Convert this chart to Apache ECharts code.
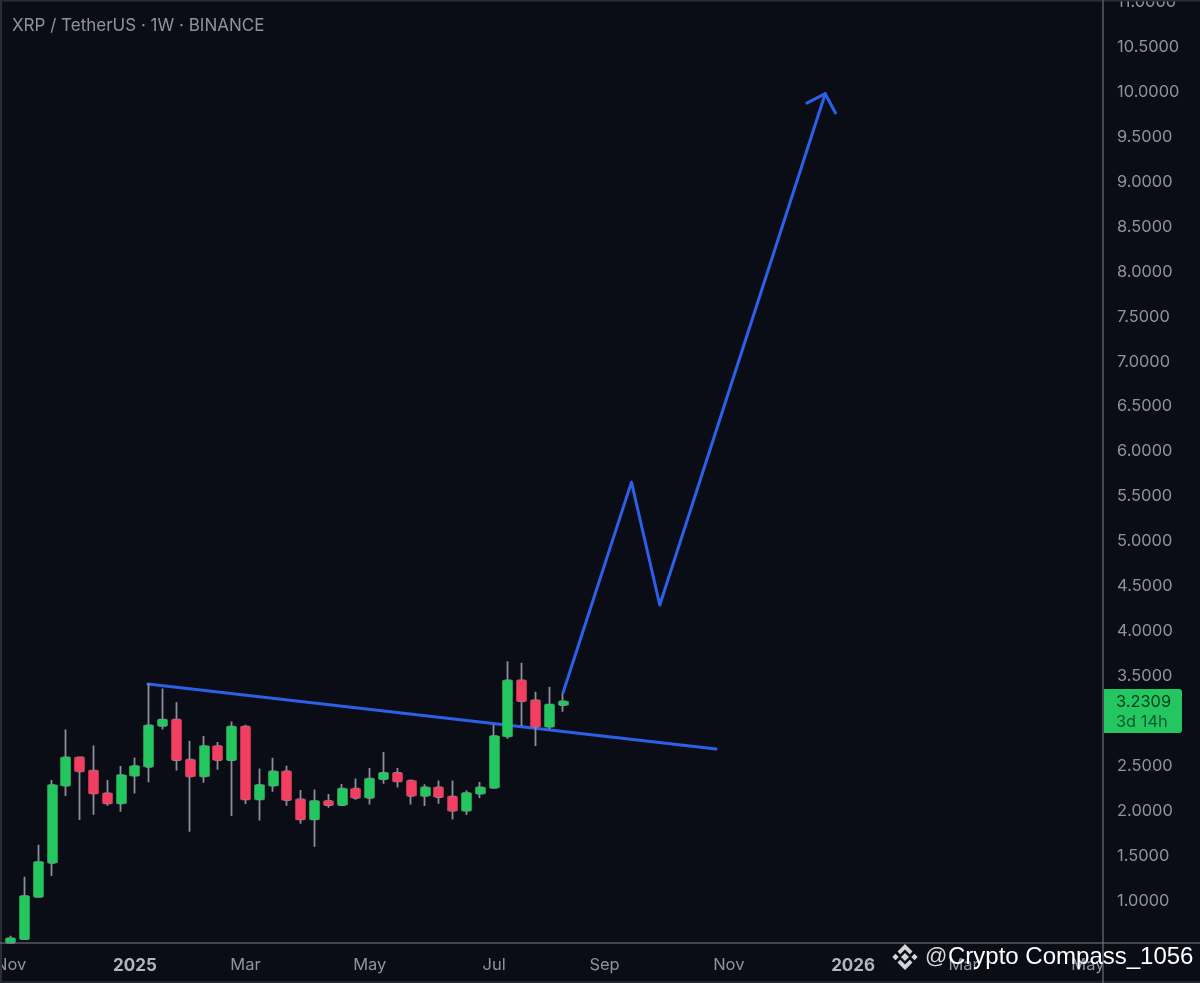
<!DOCTYPE html>
<html><head><meta charset="utf-8">
<style>html,body{margin:0;padding:0;background:#0a0d16}#c{width:1200px;height:983px}</style>
<script src="https://cdn.jsdelivr.net/npm/echarts@6/dist/echarts.min.js"></script>
</head><body><div id="c"></div>
<script>
const opens  = [0.536,0.577,1.048,1.426,2.283,2.598,2.450,2.197,2.086,2.394,2.494,2.950,3.017,2.572,2.386,2.724,2.568,2.939,2.131,2.283,2.442,2.131,1.908,2.112,2.068,2.249,2.149,2.357,2.424,2.338,2.171,2.264,2.160,2.005,2.194,2.260,2.831,3.454,3.232,2.939,3.180];
const closes = [0.585,1.055,1.434,2.290,2.598,2.442,2.197,2.086,2.401,2.501,2.954,3.017,2.568,2.386,2.724,2.568,2.939,2.131,2.290,2.442,2.123,1.908,2.112,2.068,2.249,2.149,2.361,2.424,2.331,2.171,2.264,2.157,2.005,2.201,2.264,2.835,3.454,3.224,2.939,3.184,3.221];
const lows   = [0.536,0.577,1.048,1.278,2.168,1.901,1.960,2.060,1.993,2.197,2.320,2.909,2.453,1.771,2.316,2.461,1.945,2.079,1.897,2.216,2.060,1.860,1.604,2.038,2.068,2.127,2.075,2.305,2.264,2.075,2.056,2.082,1.908,1.956,2.146,2.260,2.805,2.946,2.724,2.909,3.106];
const highs  = [0.614,1.270,1.626,2.346,2.909,2.598,2.731,2.346,2.501,2.598,3.421,3.365,3.210,2.783,2.835,2.768,2.998,2.961,2.475,2.594,2.505,2.234,2.242,2.190,2.301,2.364,2.479,2.657,2.479,2.353,2.298,2.342,2.342,2.231,2.323,2.961,3.666,3.651,3.328,3.384,3.310];
const barCount = 80;
const tickIndex  = [0,9,17,26,35,43,52,61,69,78];
const tickLabels = ['Nov','2025','Mar','May','Jul','Sep','Nov','2026','Mar','May'];
const trendLine  = [[9.94,3.414],[51.07,2.691]];
const projection = [[40.0,3.32],[44.95,5.66],[47.0,4.293],[58.98,9.98]];
const arrowHead  = [[57.65,9.876],[58.98,9.98],[59.72,9.765]];
const lastPrice = '3.2309';
const countdown = '3d 14h';
const hiddenPriceLabels = [0.5,3];
const titleText = 'XRP / TetherUS · 1W · BINANCE';

const GREEN='#24c660', RED='#f23f61', WICK='#8a8e98', BLUE='#2c60e8', TXT='#8f939f', FRAME='#565b68';
const cats = Array.from({length:barCount},(_,i)=>{const k=tickIndex.indexOf(i);return k>=0?tickLabels[k]:'';});
const wickData = opens.map((o,i)=>[o,closes[i],lows[i],highs[i]]);
const bodyData = opens.map((o,i)=>[o,closes[i],Math.min(o,closes[i]),Math.max(o,closes[i])]);
const lineSeries=(d,col)=>({type:'line',xAxisIndex:1,yAxisIndex:0,data:d,symbol:'none',z:1,silent:true,animation:false,
  lineStyle:{color:col,width:3,cap:'round',join:'round'}});
const line=(x1,y1,x2,y2,c,w)=>({type:'line',silent:true,z:5,shape:{x1,y1,x2,y2},style:{stroke:c,lineWidth:w||1}});
const poly=(pts)=>({type:'polygon',silent:true,z:30,shape:{points:pts},style:{fill:'#d4d5d8'}});
const cx=905,cy=957,P=a=>a.map(p=>[cx+p[0],cy+p[1]]);

const chart=echarts.init(document.getElementById('c'),null,{renderer:'canvas',width:1200,height:983});
chart.setOption({
  animation:false,
  backgroundColor:'#0a0d16',
  grid:{left:3.8,width:1104.8,top:2,height:944,containLabel:false,outerBoundsMode:'none'},
  xAxis:[
    {type:'category',data:cats,boundaryGap:true,axisTick:{show:false},axisLine:{show:false},splitLine:{show:false},
     axisLabel:{show:true,interval:0,margin:0,hideOverlap:false,padding:[11,0,0,0],
       color:TXT,fontFamily:'Inter, Roboto, sans-serif',fontSize:16.5,
       formatter:v=>/^\d{4}$/.test(v)?'{y|'+v+'}':v,
       rich:{y:{fontFamily:'Inter, Roboto, sans-serif',fontSize:17,fontWeight:700,color:'#b4b6be'}}}},
    {type:'value',min:-0.5,max:barCount-0.5,show:false}
  ],
  yAxis:[{type:'value',min:0.5,max:11,interval:0.5,position:'right',scale:false,
    axisLine:{show:false},axisTick:{show:false},splitLine:{show:false},
    axisLabel:{margin:8.5,padding:[3,0,0,0],color:TXT,fontFamily:'Inter, Roboto, sans-serif',fontSize:16.4,align:'left',showMinLabel:true,showMaxLabel:true,
      formatter:v=>hiddenPriceLabels.includes(v)?'':v.toFixed(4)}}],
  series:[
    lineSeries(trendLine,BLUE),
    lineSeries(projection,BLUE),
    lineSeries(arrowHead,BLUE),
    {type:'candlestick',xAxisIndex:0,yAxisIndex:0,data:wickData,barWidth:6,z:2,silent:true,
     itemStyle:{color:WICK,color0:WICK,borderColor:WICK,borderColor0:WICK,borderWidth:1.8}},
    {type:'candlestick',xAxisIndex:0,yAxisIndex:0,data:bodyData,barWidth:10.5,z:3,silent:true,
     itemStyle:{color:GREEN,color0:RED,borderColor:GREEN,borderColor0:RED,borderWidth:0.5}}
  ],
  graphic:[
    line(0,0.5,1200,0.5,'#2b2d33',2),
    line(1,0,1,983,'#2b2d33',2),
    line(0,982,1200,982,'#23252c',2),
    line(1103,0,1103,983,FRAME,1.5),
    line(0,943,1200,943,'#7a7e89',1.2),
    {type:'text',silent:true,z:10,x:12,y:26,style:{text:titleText,fill:TXT,font:'17px Inter, Roboto, sans-serif',verticalAlign:'middle'}},
    {type:'rect',silent:true,z:10,shape:{x:1104,y:689,width:78,height:44,r:[0,3,3,0]},style:{fill:GREEN}},
    {type:'text',silent:true,z:11,x:1116,y:702,style:{text:lastPrice,fill:'#0a3d20',font:'16.4px Inter, Roboto, sans-serif',verticalAlign:'middle'}},
    {type:'text',silent:true,z:11,x:1116,y:722,style:{text:countdown,fill:'#0f5c2f',font:'16.4px Inter, Roboto, sans-serif',verticalAlign:'middle'}},
    poly(P([[0,-4],[4,0],[0,4],[-4,0]])),
    poly(P([[-9.5,-3.2],[-6.3,0],[-9.5,3.2],[-12.7,0]])),
    poly(P([[9.5,-3.2],[12.7,0],[9.5,3.2],[6.3,0]])),
    poly(P([[0,-13],[7.5,-5.5],[4.8,-2.8],[0,-7.6],[-4.8,-2.8],[-7.5,-5.5]])),
    poly(P([[0,13],[7.5,5.5],[4.8,2.8],[0,7.6],[-4.8,2.8],[-7.5,5.5]])),
    {type:'text',silent:true,z:30,x:925,y:957,style:{text:'@',fill:'#d8d8da',font:'22px "Liberation Sans", sans-serif',verticalAlign:'middle'}},
    {type:'text',silent:true,z:30,x:948,y:957,style:{text:'Crypto Compass_1056',fill:'#ffffff',font:'24px "Liberation Sans", sans-serif',verticalAlign:'middle'}}
  ]
});
</script></body></html>
